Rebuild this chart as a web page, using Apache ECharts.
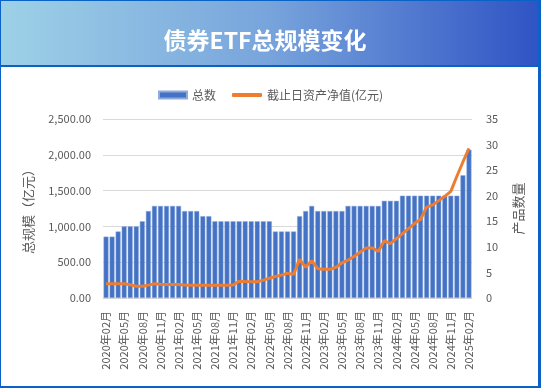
<!DOCTYPE html>
<html><head><meta charset="utf-8">
<script src="https://cdn.jsdelivr.net/npm/echarts@6/dist/echarts.min.js"></script>
<style>html,body{margin:0;padding:0;background:#fff}#c{width:543px;height:389px}</style>
</head><body><div id="c"></div>
<script>
const titleText = '债券ETF总规模变化';
const seriesNames = ['总数', '截止日资产净值(亿元)'];
const months = [
 '2020年02月','2020年03月','2020年04月','2020年05月','2020年06月','2020年07月','2020年08月','2020年09月','2020年10月','2020年11月','2020年12月',
 '2021年01月','2021年02月','2021年03月','2021年04月','2021年05月','2021年06月','2021年07月','2021年08月','2021年09月','2021年10月','2021年11月','2021年12月',
 '2022年01月','2022年02月','2022年03月','2022年04月','2022年05月','2022年06月','2022年07月','2022年08月','2022年09月','2022年10月','2022年11月','2022年12月',
 '2023年01月','2023年02月','2023年03月','2023年04月','2023年05月','2023年06月','2023年07月','2023年08月','2023年09月','2023年10月','2023年11月','2023年12月',
 '2024年01月','2024年02月','2024年03月','2024年04月','2024年05月','2024年06月','2024年07月','2024年08月','2024年09月','2024年10月','2024年11月','2024年12月',
 '2025年01月','2025年02月'
];
const productCount = [
 12,12,13,14,14,14,15,17,18,18,18,
 18,18,17,17,17,16,16,15,15,15,15,15,
 15,15,15,15,15,13,13,13,13,16,17,18,
 17,17,17,17,17,18,18,18,18,18,18,19,
 19,19,20,20,20,20,20,20,20,20,20,20,
 24,29
];
const netAsset = [
 200,200,200,198,185,165,163,180,200,192,190,
 190,190,180,177,177,177,177,177,177,177,180,235,
 230,228,228,250,275,300,320,345,330,540,430,520,
 410,400,400,430,490,530,580,640,700,700,650,800,
 760,830,900,970,1040,1100,1270,1300,1360,1420,1490,1700,
 1900,2090
];
const leftAxisName = '总规模（亿元）';
const rightAxisName = '产品数量';

function fmt(v){
  const s = v.toFixed(2).split('.');
  return s[0].replace(/\B(?=(\d{3})+(?!\d))/g, ',') + '.' + s[1];
}

const chart = echarts.init(document.getElementById('c'), null, {renderer:'canvas'});
const font = '"Noto Sans CJK SC", "Noto Sans", sans-serif';
const legendText = {color:'#595959', fontSize: 12, fontFamily: font};
chart.setOption({
  backgroundColor: '#fff',
  textStyle: {fontFamily: font},
  animation: false,
  graphic: [
    {type:'rect', shape:{x:1,y:1,width:537,height:64}, style:{fill: new echarts.graphic.LinearGradient(0,0,1,0,[{offset:0,color:'#9DD1E7'},{offset:0.5,color:'#78A4DC'},{offset:1,color:'#2F54C4'}])}, z:0},
    {type:'rect', shape:{x:0,y:0,width:541,height:1}, style:{fill:'#0A62C6'}, z:1},
    {type:'rect', shape:{x:0,y:0,width:1,height:388}, style:{fill:'#0A62C6'}, z:1},
    {type:'rect', shape:{x:538,y:0,width:3,height:388}, style:{fill:'#0A62C6'}, z:1},
    {type:'rect', shape:{x:0,y:386,width:541,height:2}, style:{fill:'#0A62C6'}, z:1},
    {type:'rect', shape:{x:0,y:65,width:541,height:2}, style:{fill:'#0A62C6'}, z:1}
  ],
  title: {
    text: titleText, left: 260, top: 35, textAlign:'center', textVerticalAlign:'middle',
    textStyle: {color:'#fff', fontSize: 23, fontWeight:'bold', fontFamily: font}
  },
  legend: [
    {left: 153, top: 84, itemWidth: 28, itemHeight: 7, itemGap: 4, textStyle: legendText,
     data: [{name: seriesNames[0], icon:'rect'}]},
    {left: 227, top: 84, itemWidth: 30, itemHeight: 4, textStyle: legendText,
     data: [{name: seriesNames[1], icon:'roundRect'}]}
  ],
  grid: {left: 103, right: 71, top: 119, bottom: 91, containLabel: false},
  xAxis: {
    type:'category', data: months, boundaryGap: true,
    axisLine: {lineStyle:{color:'#D9D9D9'}},
    axisTick: {show:false},
    axisLabel: {rotate: 90, interval: 2, color:'#595959', fontSize: 11, margin: 13, fontFamily: font}
  },
  yAxis: [
    {type:'value', min:0, max:2500, interval:500, name: leftAxisName, nameLocation:'middle', nameGap: 68, nameRotate: 90,
     nameTextStyle:{color:'#595959', fontSize:13, fontFamily: font},
     axisLabel:{formatter: fmt, color:'#595959', fontSize:11, margin: 12},
     splitLine:{lineStyle:{color:'#D9D9D9'}}, axisLine:{show:false}, axisTick:{show:false}},
    {type:'value', min:0, max:35, interval:5, name: rightAxisName, nameLocation:'middle', nameGap: 40, nameRotate: 90,
     nameTextStyle:{color:'#595959', fontSize:13, fontFamily: font},
     axisLabel:{color:'#595959', fontSize:11, margin: 14},
     splitLine:{show:false}, axisLine:{show:false}, axisTick:{show:false}}
  ],
  series: [
    {name: seriesNames[0], type:'bar', yAxisIndex:1, data: productCount, barCategoryGap:'18%',
     itemStyle:{color:'#4472C4', borderColor:'#8FAADC', borderWidth:0.5}, z:2},
    {name: seriesNames[1], type:'line', yAxisIndex:0, data: netAsset, symbol:'none', showSymbol:false,
     lineStyle:{color:'#ED7D31', width:3}, itemStyle:{color:'#ED7D31'}, z:3}
  ]
});
</script></body></html>
